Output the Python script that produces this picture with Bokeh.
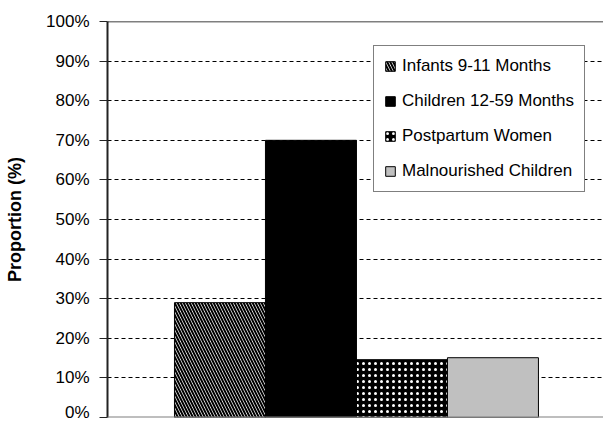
from bokeh.embed import file_html
from bokeh.models import Legend, LegendItem, Range1d, Span
from bokeh.plotting import figure
from bokeh.resources import INLINE

# Share of each group (percent)
groups = ["Infants 9-11 Months", "Children 12-59 Months", "Postpartum Women", "Malnourished Children"]
proportion = [29.0, 70.0, 14.6, 15.1]
bar_positions = [1, 2, 3, 4]
y_ticks = [0, 10, 20, 30, 40, 50, 60, 70, 80, 90, 100]
y_tick_labels = ["0%", "10%", "20%", "30%", "40%", "50%", "60%", "70%", "80%", "90%", "100%"]

FONT = "Liberation Sans"

# Fill / hatch style for each bar
bar_styles = [
    dict(fill_color="white", hatch_pattern="\\", hatch_color="black", hatch_scale=6, hatch_weight=2),
    dict(fill_color="black"),
    dict(fill_color="black", hatch_pattern=".", hatch_color="white", hatch_scale=6, hatch_weight=6),
    dict(fill_color="#c0c0c0"),
]

p = figure(
    width=603, height=421,
    output_backend="svg", toolbar_location=None,
    x_range=Range1d(-0.236, 5.215), y_range=Range1d(0, 100),
    min_border_left=107, min_border_top=21, min_border_bottom=4, min_border_right=0,
)
p.outline_line_color = None
p.background_fill_color = "white"
p.xaxis.visible = False
p.xgrid.visible = False

# Y axis
yax = p.yaxis[0]
yax.ticker = y_ticks
yax.major_label_overrides = {t: lab for t, lab in zip(y_ticks, y_tick_labels)}
yax.major_label_text_font = FONT
yax.major_label_text_font_size = "17px"
yax.major_label_text_color = "black"
yax.major_label_standoff = 10
yax.major_tick_out = 8
yax.major_tick_in = 0
yax.minor_tick_out = 0
yax.minor_tick_in = 0
yax.axis_line_color = "#222222"
yax.axis_line_width = 2
yax.major_tick_line_color = "#222222"
yax.axis_label = "Proportion (%)"
yax.axis_label_text_font = FONT
yax.axis_label_text_font_size = "18px"
yax.axis_label_text_font_style = "bold"
yax.axis_label_text_color = "black"
yax.axis_label_standoff = 18

# Dashed horizontal grid
p.ygrid.grid_line_color = "black"
p.ygrid.grid_line_dash = "4 3"
p.ygrid.grid_line_width = 1

p.add_layout(Span(location=100, dimension="width", line_color="black", line_width=1.5))
p.add_layout(Span(location=0, dimension="width", line_color="#7f7f7f", line_width=2))

items = []
for name, val, pos, style in zip(groups, proportion, bar_positions, bar_styles):
    r = p.vbar(x=[pos], top=[val], width=1.0, bottom=0,
               line_color="black", line_width=1, **style)
    items.append(LegendItem(label=name, renderers=[r]))

legend = Legend(
    items=items,
    location=(266, 225),
    label_text_font=FONT,
    label_text_font_size="17px",
    label_text_color="black",
    glyph_width=12, glyph_height=12,
    label_standoff=6,
    label_height=20,
    spacing=15,
    padding=10,
    margin=0,
    border_line_color="black",
    border_line_width=1,
    background_fill_color="white",
    background_fill_alpha=1,
)
p.add_layout(legend)

open("out.html", "w").write(file_html(p, INLINE))
